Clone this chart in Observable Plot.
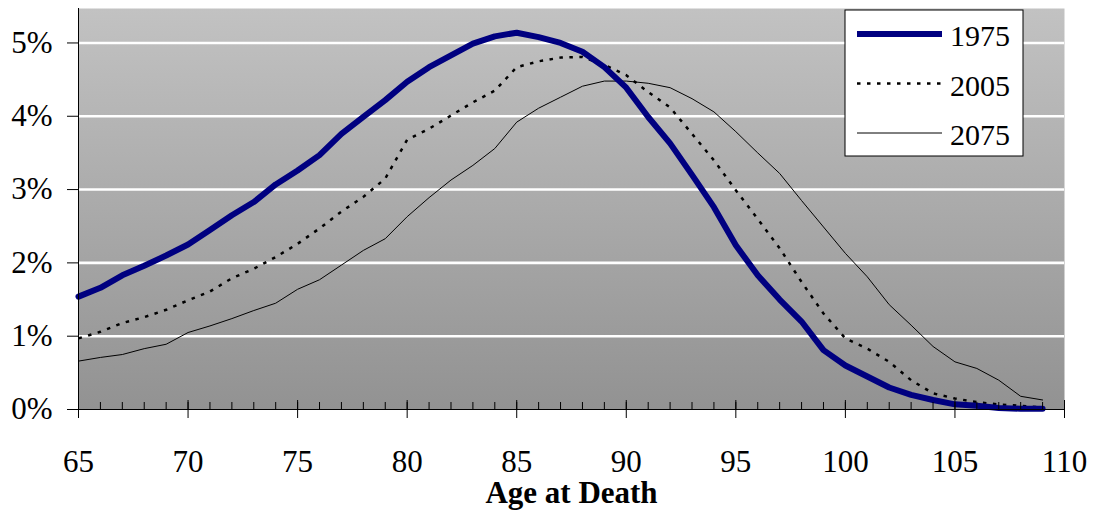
<!DOCTYPE html>
<html>
<head>
<meta charset="utf-8">
<script src="https://cdn.jsdelivr.net/npm/d3@7"></script>
<script src="https://cdn.jsdelivr.net/npm/@observablehq/plot@0.6"></script>
<style>
  html, body { margin: 0; padding: 0; background: white; }
  svg text { font-family: "Liberation Serif", "Times New Roman", serif !important; }
</style>
</head>
<body>
<div id="chart"></div>
<script>
// ---- data (percent of deaths at each age) ----
const ages = d3.range(65, 110);
const s1975 = [1.54,1.66,1.83,1.96,2.10,2.25,2.45,2.65,2.83,3.07,3.26,3.47,3.76,3.99,4.22,4.47,4.67,4.83,4.99,5.09,5.14,5.08,5.00,4.88,4.67,4.39,3.99,3.63,3.20,2.76,2.24,1.83,1.50,1.20,0.81,0.60,0.45,0.30,0.20,0.13,0.07,0.05,0.02,0.01,0.01];
const s2005 = [0.97,1.06,1.18,1.26,1.36,1.49,1.61,1.79,1.92,2.08,2.26,2.47,2.70,2.90,3.15,3.68,3.83,4.01,4.19,4.35,4.67,4.75,4.80,4.81,4.70,4.56,4.33,4.12,3.76,3.40,2.99,2.60,2.20,1.74,1.31,0.97,0.83,0.65,0.40,0.22,0.15,0.10,0.07,0.05,0.03];
const s2075 = [0.66,0.71,0.75,0.83,0.89,1.05,1.14,1.24,1.35,1.45,1.64,1.77,1.97,2.17,2.33,2.63,2.89,3.13,3.33,3.56,3.92,4.11,4.26,4.41,4.48,4.48,4.45,4.39,4.24,4.06,3.79,3.50,3.22,2.85,2.49,2.13,1.81,1.43,1.15,0.86,0.65,0.56,0.40,0.18,0.13];
const seriesNames = ["1975", "2005", "2075"];
const xMajorTicks = [65, 70, 75, 80, 85, 90, 95, 100, 105, 110];
const xMinorTicks = d3.range(65, 111);
const yTicks = [0, 1, 2, 3, 4, 5];

const seriesValues = [s1975, s2005, s2075];
const styles = {
  "1975": {stroke: "#000080", strokeWidth: 6, dash: null},
  "2005": {stroke: "#000000", strokeWidth: 2.5, dash: "3.5 6.5"},
  "2075": {stroke: "#000000", strokeWidth: 1, dash: null}
};
const rows = seriesNames.map((name, i) => ages.map((a, j) => ({age: a, value: seriesValues[i][j], series: name})));

const font = "Liberation Serif, Times New Roman, serif";

const lineMarks = seriesNames.map((name, i) =>
  Plot.line(rows[i], {
    x: "age", y: "value",
    stroke: styles[name].stroke,
    strokeWidth: styles[name].strokeWidth,
    strokeDasharray: styles[name].dash,
    strokeLinejoin: "round",
    strokeLinecap: name === "2005" ? "butt" : "round"
  })
);

const svg = Plot.plot({
  width: 1096,
  height: 512,
  marginLeft: 78,
  marginRight: 32,
  marginTop: 8,
  marginBottom: 103,
  style: "font-family: 'Liberation Serif', 'Times New Roman', serif; background: white; color: black; overflow: visible;",
  x: {domain: [65, 110]},
  y: {domain: [0, 5.47]},
  marks: [
    Plot.frame({fill: "url(#bgGrad)", stroke: null}),
    Plot.gridY({ticks: yTicks.filter(d => d > 0), stroke: "white", strokeOpacity: 1, strokeWidth: 2.6}),
    ...lineMarks.slice().reverse(),
    Plot.ruleX([65], {stroke: "#000", strokeWidth: 1}),
    Plot.ruleY([0], {stroke: "#000", strokeWidth: 1}),
    // minor ticks (inside)
    Plot.axisX({ticks: xMinorTicks, tickSize: 7, dy: -7, text: null, label: null, strokeWidth: 1}),
    // major ticks (cross)
    Plot.axisX({ticks: xMajorTicks, tickSize: 18, dy: -9, text: null, label: null, strokeWidth: 1}),
    // x tick labels
    Plot.axisX({ticks: xMajorTicks, tickSize: 0, tickPadding: 40, fontSize: 31, fontFamily: font, label: null, tickFormat: d => String(d)}),
    // y axis
    Plot.axisY({ticks: yTicks, tickSize: 11, tickPadding: 15, fontSize: 31, fontFamily: font, label: null, tickFormat: d => d + "%"}),
    Plot.text(["Age at Death"], {frameAnchor: "bottom", dy: 84, lineAnchor: "middle", fontSize: 31, fontFamily: font, fontWeight: "bold", fill: "black"})
  ]
});

// gradient background definition
const defs = d3.select(svg).insert("defs", ":first-child");
const grad = defs.append("linearGradient").attr("id", "bgGrad").attr("x1", 0).attr("y1", 0).attr("x2", 0).attr("y2", 1);
grad.append("stop").attr("offset", "0%").attr("stop-color", "#c2c2c2");
grad.append("stop").attr("offset", "100%").attr("stop-color", "#929292");

// legend
const lg = d3.select(svg).append("g").attr("font-family", font).attr("text-anchor", "start");
lg.append("rect").attr("x", 845).attr("y", 10).attr("width", 178).attr("height", 146)
  .attr("fill", "white").attr("stroke", "black").attr("stroke-width", 1);
seriesNames.forEach((name, i) => {
  const cy = 34 + i * 49.5;
  const st = styles[name];
  lg.append("line").attr("x1", 857).attr("x2", 942).attr("y1", cy).attr("y2", cy)
    .attr("stroke", st.stroke).attr("stroke-width", st.strokeWidth)
    .attr("stroke-dasharray", st.dash);
  lg.append("text").attr("x", 950).attr("y", cy + 12).attr("font-size", 30)
    .attr("text-anchor", "start").attr("fill", "black").text(name);
});

document.getElementById("chart").appendChild(svg);
</script>
</body>
</html>
